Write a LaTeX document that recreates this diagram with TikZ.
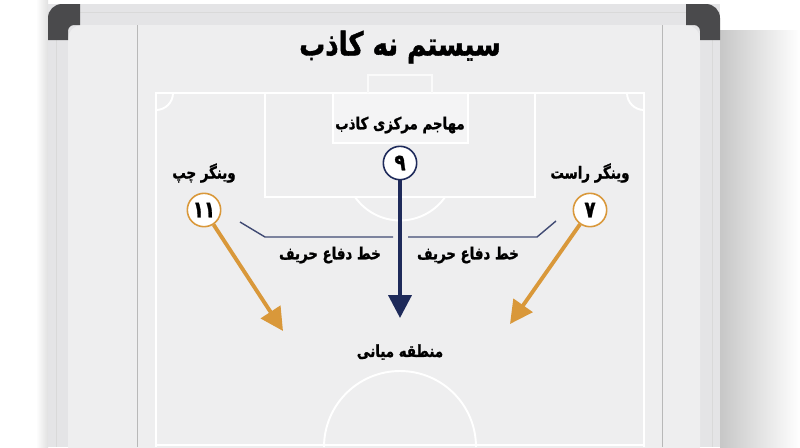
\documentclass[tikz,border=0pt]{standalone}
\usepackage{fontspec}
\usetikzlibrary{arrows.meta}
\TeXXeTstate=1
\newfontfamily\fafont[Script=Arabic,FakeStretch=0.8,FakeBold=1.2]{DejaVu Sans}
\newcommand{\fa}[1]{{\fafont\bfseries\beginR #1\endR}}
\definecolor{navy}{HTML}{1E2A5A}
\definecolor{gold}{HTML}{D9983A}
\definecolor{board}{HTML}{EEEEEF}
\definecolor{frame}{HTML}{E4E4E6}
\definecolor{corner}{HTML}{4A4A4C}
\tikzset{
  chalk/.style={draw=white,line width=1.1pt},
  player/.style={circle,draw=#1,fill=white,line width=0.9pt,minimum size=19pt,inner sep=0pt,font=\fontsize{13}{15}\selectfont},
  lbl/.style={font=\fontsize{9.5}{11}\selectfont,inner sep=1pt},
  runarrow/.style={draw=#1,line width=2.2pt,-{Triangle[width=13pt,length=13pt]}},
  defline/.style={draw=navy!85,line width=0.8pt,line join=round}
}
\begin{document}
\begin{tikzpicture}[x=0.02cm,y=-0.02cm]
            \useasboundingbox (0,0) rectangle (800,447);
            \fill[white] (0,0) rectangle (800,447);
            % shadows beside the board
            \shade[left color=white,right color=black!12] (36,0) rectangle (48,447);
            \shade[left color=black!22,right color=white] (720,30) rectangle (800,447);
            % frame and board
            \fill[frame] (48,4) rectangle (720,447);
            \draw[black!15,line width=0.4pt] (48,12) -- (720,12) (56,12) -- (56,447) (712,12) -- (712,447);
            \fill[board,rounded corners=8pt] (68,25) -- (700,25) -- (700,460) -- (68,460) -- cycle;
            \draw[black!28,line width=0.4pt] (137,25) -- (137,447) (662,25) -- (662,447);
            % corners
            \fill[corner] (48,40) -- (48,18) arc[start angle=180,end angle=270,radius=14] -- (80,4) -- (80,25)
              -- (74,25) arc[start angle=270,end angle=180,radius=6] -- (68,40) -- cycle;
            \fill[corner] (720,40) -- (720,18) arc[start angle=0,end angle=-90,radius=14] -- (686,4) -- (686,25)
              -- (694,25) arc[start angle=-90,end angle=0,radius=6] -- (700,40) -- cycle;
            % pitch
            \fill[white!35!board] (333,93) rectangle (468,143);
            \draw[chalk] (156,447) -- (156,93) -- (644,93) -- (644,447);
            \draw[chalk] (173,93) arc[start angle=0,end angle=90,radius=17];
            \draw[chalk] (627,93) arc[start angle=180,end angle=90,radius=17];
            \draw[chalk] (265,93) rectangle (535,197);
            \draw[chalk] (333,93) rectangle (468,143);
            \draw[chalk,white!70!board] (368,93) -- (368,75) -- (432,75) -- (432,93);
            \draw[chalk] (355,197) arc[start angle=145,end angle=35,radius=55];
            \draw[chalk] (156,445) -- (644,445);
            \draw[chalk] (324,447) arc[start angle=180,end angle=360,radius=76];
            % opponent back line
            \draw[defline] (240,222) -- (265,237) -- (393,237);
            \draw[defline] (408,237) -- (537,237) -- (556,221);
            % title and labels
            \node (title) at (400,47) {\fontsize{18.5}{21}\selectfont\fa{سیستم نه کاذب}};
            \node[lbl] (cflbl) at (400,125) {\fa{مهاجم مرکزی کاذب}};
            \node[lbl] (lwlbl) at (204,173) {\fa{وینگر چپ}};
            \node[lbl] (rwlbl) at (590,173) {\fa{وینگر راست}};
            \node[lbl] (dlbl1) at (330,255) {\fa{خط دفاع حریف}};
            \node[lbl] (dlbl2) at (468,255) {\fa{خط دفاع حریف}};
            \node[lbl] (midlbl) at (400,352) {\fa{منطقه میانی}};
            % players
            \node[player=navy] (cf) at (400,163) {\fa{۹}};
            \node[player=gold] (lw) at (204,210) {\fa{۱۱}};
            \node[player=gold] (rw) at (590,210) {\fa{۷}};
            \coordinate (cfend) at (400,318);
            \coordinate (lwend) at (283,331);
            \coordinate (rwend) at (510,324);
            \draw[runarrow=navy] (cf) -- (cfend);
            \draw[runarrow=gold] (lw) -- (lwend);
            \draw[runarrow=gold] (rw) -- (rwend);
            \end{tikzpicture}
\end{document}
